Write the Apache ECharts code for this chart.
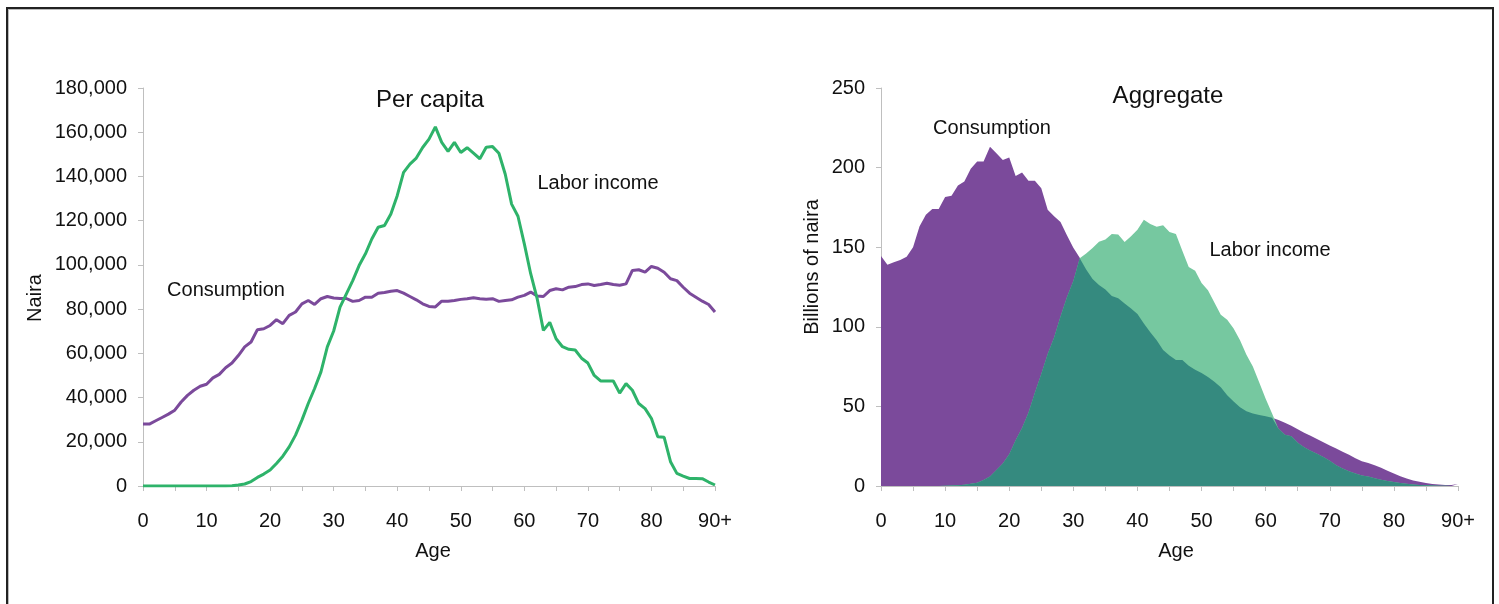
<!DOCTYPE html>
<html>
<head>
<meta charset="utf-8">
<script src="https://cdn.jsdelivr.net/npm/echarts@6/dist/echarts.min.js"></script>
<style>
  html, body { margin: 0; padding: 0; background: #fff; }
  .frame {
    position: absolute; left: 6px; top: 7px; width: 1484px; height: 700px;
    border: 2px solid #222; border-bottom: none;
    box-shadow: inset 1px 1px 0 #bbb;
  }
  #chart { position: absolute; left: 0; top: 0; width: 1499px; height: 604px; }
</style>
</head>
<body>
<div class="frame"></div>
<div id="chart"></div>
<script>
// ages 0..90 (last shown as 90+)
const ages = Array.from({ length: 91 }, (_, i) => String(i))

// per capita, naira
const pcConsumption = [
  28000, 28000, 29500, 31000, 32500, 34300, 38000, 41000, 43300, 45100,
  46000, 48900, 50500, 53500, 55600, 59000, 62900, 65100, 70700, 71100,
  72600, 75200, 73400, 77200, 78700, 82400, 83900, 82100, 84700, 85700,
  85000, 84800, 84800, 83500, 83900, 85400, 85400, 87200, 87500, 88100,
  88400, 87200, 85700, 84200, 82400, 81200, 81000, 83600, 83600, 83900,
  84400, 84700, 85100, 84700, 84500, 84700, 83500, 83900, 84200, 85400,
  86200, 87700, 85900, 85700, 88400, 89200, 88700, 89900, 90200, 91100,
  91400, 90700, 91100, 91700, 91100, 90800, 91400, 97500, 97800, 96700,
  99300, 98500, 96700, 93700, 92900, 89900, 87200, 85400, 83600, 82100,
  78700
]
const pcLabor = [
  0, 0, 0, 0, 0, 0, 0, 0, 0, 0,
  0, 0, 0, 50, 150, 450, 900, 2000, 3900, 5400,
  7200, 10200, 13500, 17700, 23000, 29800, 37300, 44100, 51600, 62900,
  70100, 80900, 86900, 92900, 99700, 105000, 111700, 117000, 117800, 123000,
  131300, 141800, 145600, 148300, 153100, 156900, 162400, 155400, 151300, 155400,
  150800, 153000, 150500, 148000, 153200, 153500, 150500, 141000, 127500, 122000,
  109500, 96000, 85000, 70400, 74000, 66600, 63000, 61800, 61500, 57800,
  55600, 50000, 47500, 47500, 47500, 42000, 46300, 43300, 37300, 35000,
  30500, 22300, 22000, 11000, 5700, 4500, 3400, 3400, 3300, 1800,
  450
]

// aggregate, billions of naira
const aggConsumption = [
  144.4, 139, 140.5, 142, 144, 150, 163, 170.4, 174, 174,
  181.5, 182.3, 188.8, 191.3, 199.2, 203.8, 203.8, 213.1, 209, 204.8,
  206.3, 194.8, 196.9, 191.7, 191.7, 187, 173.5, 169.4, 165.8, 157.5,
  149.6, 143.3, 136, 130, 126.3, 123.5, 119.4, 118, 114.6, 111.5,
  108, 102, 96.5, 91.5, 85.4, 82, 79.2, 79.2, 75.6, 73,
  71, 68.5, 65.5, 62, 57, 53, 49.5, 47, 45.5, 44.6,
  43.8, 42.8, 41.5, 39.7, 37.8, 35.6, 33.5, 31.5, 29.6, 27.5,
  25.5, 23.5, 21.5, 19.6, 17.5, 15.6, 14.4, 13.1, 11.5, 9.6,
  7.8, 6.1, 4.7, 3.5, 2.7, 1.9, 1.3, 1, 0.6, 0.7,
  1.2
]
const aggLabor = [
  0, 0, 0, 0, 0, 0, 0, 0, 0, 0,
  0.2, 0.3, 0.5, 0.8, 1.4, 2.1, 3.8, 6, 10, 14.2,
  20, 28.8, 36.5, 46, 58.5, 70.4, 82.9, 93.3, 106.5, 118.5,
  128.8, 143, 146, 149.5, 153.5, 154.8, 158.3, 158, 153.3, 156.9,
  161, 167.3, 164.6, 162.9, 163.8, 159.6, 158.3, 147.8, 137.5, 135.2,
  127.5, 122.9, 115.2, 107.5, 104.5, 99, 91.5, 82.5, 75, 65,
  54.8, 45.5, 36, 32.2, 31.3, 27.1, 24.3, 22.2, 20.2, 18.2,
  15.8, 13.1, 11, 9.2, 7.8, 6.6, 5.9, 4.9, 4, 3.2,
  2.5, 1.9, 1.4, 1, 0.6, 0.4, 0.3, 0.2, 0.1, 0.05,
  0
]
// where both areas cover the same ground
const aggOverlap = aggConsumption.map((v, i) => Math.min(v, aggLabor[i]))

const font = 'Liberation Sans, Arial, sans-serif'
const axisGray = '#bfbfbf'
const purple = '#7b4a9b'
const green = '#2eb36a'

function xAxisFor (gridIndex) {
  return {
    type: 'category',
    gridIndex: gridIndex,
    data: ages,
    boundaryGap: false,
    axisLine: { lineStyle: { color: axisGray, width: 1 } },
    axisTick: { show: true, interval: 4, length: 5, lineStyle: { color: axisGray } },
    axisLabel: {
      interval: 9,
      margin: 25,
      fontSize: 20,
      fontFamily: font,
      color: '#111',
      formatter: v => (v === '90' ? '90+' : v)
    },
    splitLine: { show: false }
  }
}

function yAxisFor (gridIndex, max, interval, fmt) {
  return {
    type: 'value',
    gridIndex: gridIndex,
    min: 0,
    max: max,
    interval: interval,
    axisLine: { show: true, lineStyle: { color: axisGray, width: 1 } },
    axisTick: { show: true, length: 5, lineStyle: { color: axisGray } },
    axisLabel: { margin: 16, fontSize: 20, fontFamily: font, color: '#111', formatter: fmt },
    splitLine: { show: false }
  }
}

function label (x, y, text, size, rotation) {
  return {
    type: 'text',
    x: x,
    y: y,
    rotation: rotation || 0,
    style: {
      text: text,
      font: size + 'px ' + font,
      fill: '#111',
      align: 'center',
      verticalAlign: 'middle'
    }
  }
}

const myChart = echarts.init(document.getElementById('chart'))
const option = {
  animation: false,
  grid: [
    { left: 143, top: 88, width: 572, height: 398 },
    { left: 881, top: 88, width: 577, height: 398 }
  ],
  xAxis: [xAxisFor(0), xAxisFor(1)],
  yAxis: [
    yAxisFor(0, 180000, 20000, v => v.toLocaleString('en-US')),
    yAxisFor(1, 250, 50, v => v)
  ],
  graphic: [
    label(430, 100, 'Per capita', 24),
    label(1168, 96, 'Aggregate', 24),
    label(226, 290, 'Consumption', 20),
    label(598, 183, 'Labor income', 20),
    label(992, 128, 'Consumption', 20),
    label(1270, 250, 'Labor income', 20),
    label(433, 551, 'Age', 20),
    label(1176, 551, 'Age', 20),
    label(35, 298, 'Naira', 20, Math.PI / 2),
    label(812, 267, 'Billions of naira', 20, Math.PI / 2)
  ],
  series: [
    {
      name: 'Consumption',
      type: 'line',
      xAxisIndex: 0,
      yAxisIndex: 0,
      data: pcConsumption,
      symbol: 'none',
      lineStyle: { color: purple, width: 3 },
      z: 2
    },
    {
      name: 'Labor income',
      type: 'line',
      xAxisIndex: 0,
      yAxisIndex: 0,
      data: pcLabor,
      symbol: 'none',
      lineStyle: { color: green, width: 3 },
      z: 3
    },
    {
      name: 'Consumption',
      type: 'line',
      xAxisIndex: 1,
      yAxisIndex: 1,
      data: aggConsumption,
      symbol: 'none',
      lineStyle: { width: 0 },
      areaStyle: { color: purple, opacity: 1 },
      z: 2
    },
    {
      name: 'Labor income',
      type: 'line',
      xAxisIndex: 1,
      yAxisIndex: 1,
      data: aggLabor,
      symbol: 'none',
      lineStyle: { width: 0 },
      areaStyle: { color: '#76c8a0', opacity: 1 },
      z: 3
    },
    {
      name: 'Overlap',
      type: 'line',
      xAxisIndex: 1,
      yAxisIndex: 1,
      data: aggOverlap,
      symbol: 'none',
      lineStyle: { width: 0 },
      areaStyle: { color: '#358a7f', opacity: 1 },
      z: 4
    }
  ]
}
myChart.setOption(option)
</script>
</body>
</html>
